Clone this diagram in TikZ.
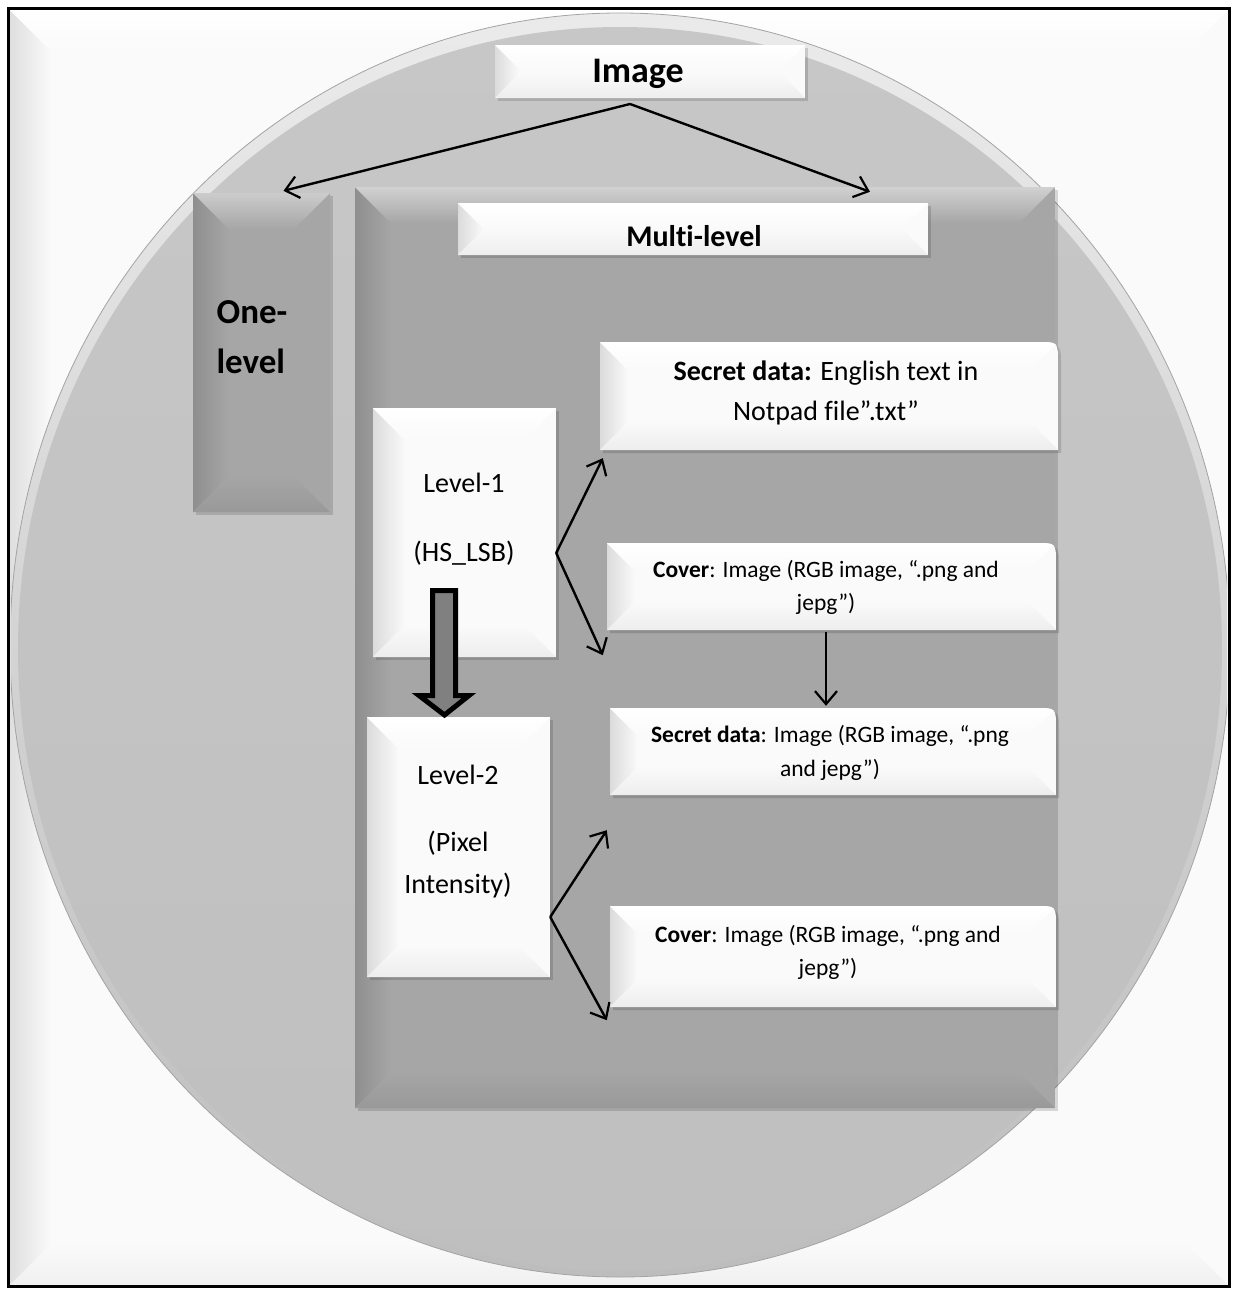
\documentclass[tikz,border=0pt]{standalone}
\usepackage{fontspec}
\setmainfont[Ligatures=NoCommon]{Carlito}
\usetikzlibrary{arrows.meta,calc,fit}
\newcommand\setfs[2]{\fontsize{#1}{#2}\selectfont}
% shadow of a box
\newcommand\bvshadow[4]{\fill[black,opacity=.14] (#1+3,#2+3) rectangle (#3+3,#4+3);}
% bevelled box: x1 y1 x2 y2 inset base left top bottom
\newcommand\bevel[9]{%
 \fill[#6] (#1,#2) rectangle (#3,#4);
 \shade[left color=#7,right color=#6] (#1,#2) -- (#1+#5,#2+#5) -- (#1+#5,#4-#5) -- (#1,#4) -- cycle;
 \shade[top color=#6,bottom color=#9] (#1,#4) -- (#1+#5,#4-#5) -- (#3-#5,#4-#5) -- (#3,#4) -- cycle;
 \shade[top color=#8,bottom color=#6] (#1,#2) -- (#1+#5,#2+#5) -- (#3-#5,#2+#5) -- (#3,#2) -- cycle;
}
% box with rounded top-right corner
\newcommand\rshadow[4]{\fill[black,opacity=.14] (#1+3,#2+3) -- (#3-17,#2+3) .. controls (#3+3,#2+3) .. (#3+3,#2+23) -- (#3+3,#4+3) -- (#1+3,#4+3) -- cycle;}
\newcommand\rclip[4]{\clip (#1,#2) -- (#3-20,#2) .. controls (#3,#2) .. (#3,#2+20) -- (#3,#4) -- (#1,#4) -- cycle;}
\newcommand\rbox[4]{%
 \rshadow{#1}{#2}{#3}{#4}
 \begin{scope}
 \rclip{#1}{#2}{#3}{#4}
 \bevel{#1}{#2}{#3}{#4}{28}{black!2}{black!14}{white}{black!7}
 \end{scope}}
\newcommand\wbox[5]{%
 \bvshadow{#1}{#2}{#3}{#4}
 \bevel{#1}{#2}{#3}{#4}{#5}{black!2}{black!14}{white}{black!7}}
\tikzset{
 conn/.style={-{Straight Barb[length=13pt,width=22pt,line width=2.2pt]}, line width=2.4pt},
 txt/.style={align=center, inner sep=0pt, text=black},
 boxn/.style={inner sep=0pt}
}
\begin{document}
\begin{tikzpicture}[x=1pt,y=-1pt]
\useasboundingbox (0,0) rectangle (1237,1291);
% outer frame
\bevel{9}{9}{1229}{1286}{42}{black!2}{black!13}{white}{black!6}
\node[boxn,fit={(9,9)(1229,1286)}] (frame) {};
% big circle
\begin{scope}
 \clip (11,11) rectangle (1227,1284);
 \shade[top color=black!8, bottom color=black!26] (620,645) ellipse [x radius=610pt, y radius=632pt];
 \shade[top color=black!22, bottom color=black!25] (620,649) ellipse [x radius=602pt, y radius=622pt];
 \draw[black!36, line width=0.8pt] (620,645) ellipse [x radius=610pt, y radius=632pt];
\end{scope}
\node[boxn,fit={(10,13)(1230,1277)}] (circle) {};
% Image box
\wbox{495}{45}{805}{98}{24}
\node[boxn,fit={(495,45)(805,98)}] (img) {};
% One-level box
\bvshadow{193}{193}{330}{512}
\bevel{193}{193}{330}{512}{36}{black!35}{black!44}{black!20}{black!40}
\node[boxn,fit={(193,193)(330,512)}] (one) {};
% Multi-level box
\bvshadow{355}{187}{1055}{1108}
\bevel{355}{187}{1055}{1108}{36}{black!35}{black!44}{black!18}{black!40}
\node[boxn,fit={(355,187)(1055,1108)}] (multi) {};
\wbox{458}{203}{928}{255}{26}
\node[boxn,fit={(458,203)(928,255)}] (multiL) {};
% right column boxes
\rbox{600}{342}{1058}{450}
\node[boxn,fit={(600,342)(1058,450)}] (s1) {};
\rbox{607}{543}{1056}{630}
\node[boxn,fit={(607,543)(1056,630)}] (c1) {};
\rbox{610}{708}{1056}{795}
\node[boxn,fit={(610,708)(1056,795)}] (s2) {};
\rbox{610}{906}{1056}{1007}
\node[boxn,fit={(610,906)(1056,1007)}] (c2) {};
% level boxes
\wbox{373}{408}{556}{657}{32}
\node[boxn,fit={(373,408)(556,657)}] (l1) {};
\wbox{367}{717}{550}{977}{32}
\node[boxn,fit={(367,717)(550,977)}] (l2) {};
% texts
\node[txt,font=\bfseries\setfs{36}{40}] (imgT) at (638,74) {Image};
\node[txt,font=\bfseries\setfs{35}{50},align=left] (oneT) at (252,337) {One-\\level};
\node[txt,font=\bfseries\setfs{30}{34}] (multiT) at (694,236) {Multi-level};
\node[txt,font=\setfs{28}{40}] (s1T) at (826,393) {\textbf{Secret data:} English text in\\Notpad file”.txt”};
\node[txt,font=\setfs{23.5}{33}] (c1T) at (826,587) {\textbf{Cover}: Image (RGB image, “.png and\\jepg”)};
\node[txt,font=\setfs{23.5}{34}] (s2T) at (830,753) {\textbf{Secret data}: Image (RGB image, “.png\\and jepg”)};
\node[txt,font=\setfs{23.5}{33}] (c2T) at (828,952) {\textbf{Cover}: Image (RGB image, “.png and\\jepg”)};
\node[txt,font=\setfs{28}{40}] (l1T) at (464,519) {Level-1\\[29pt](HS\_LSB)};
\node[txt,font=\setfs{28}{42}] (l2T) at (458,832) {Level-2\\[25pt](Pixel\\Intensity)};
% connectors
\coordinate (apex) at (630,104);
\draw[conn] (apex) -- ($(one.north)+(22,-2)$);
\draw[conn] (apex) -- ($(multi.north)+(165,5)$);
\coordinate (l1p) at ($(l1.east)+(0,20.5)$);
\draw[conn] (l1p) -- ($(s1.south west)+(3,8)$);
\draw[conn] (l1p) -- ($(c1.south west)+(-4,25)$);
\coordinate (l2p) at ($(l2.east)+(0,70)$);
\draw[conn] (l2p) -- ($(s2.south west)+(-3,35)$);
\draw[conn] (l2p) -- ($(c2.south west)+(-3,13)$);
\draw[conn,line width=2pt] ($(c1.south)+(-5.5,2)$) -- ($(s2.north)+(-7,-2)$);
% thick hollow arrow from Level-1 to Level-2
\draw[line width=5pt, fill=black!50, line join=miter] (432.5,590.5) -- (455.5,590.5) -- (455.5,695.5) -- (469,695.5) -- (444.5,715) -- (419,695.5) -- (432.5,695.5) -- cycle;
% frame border
\draw[line width=3pt] (frame.south west) rectangle (frame.north east);
\end{tikzpicture}
\end{document}
